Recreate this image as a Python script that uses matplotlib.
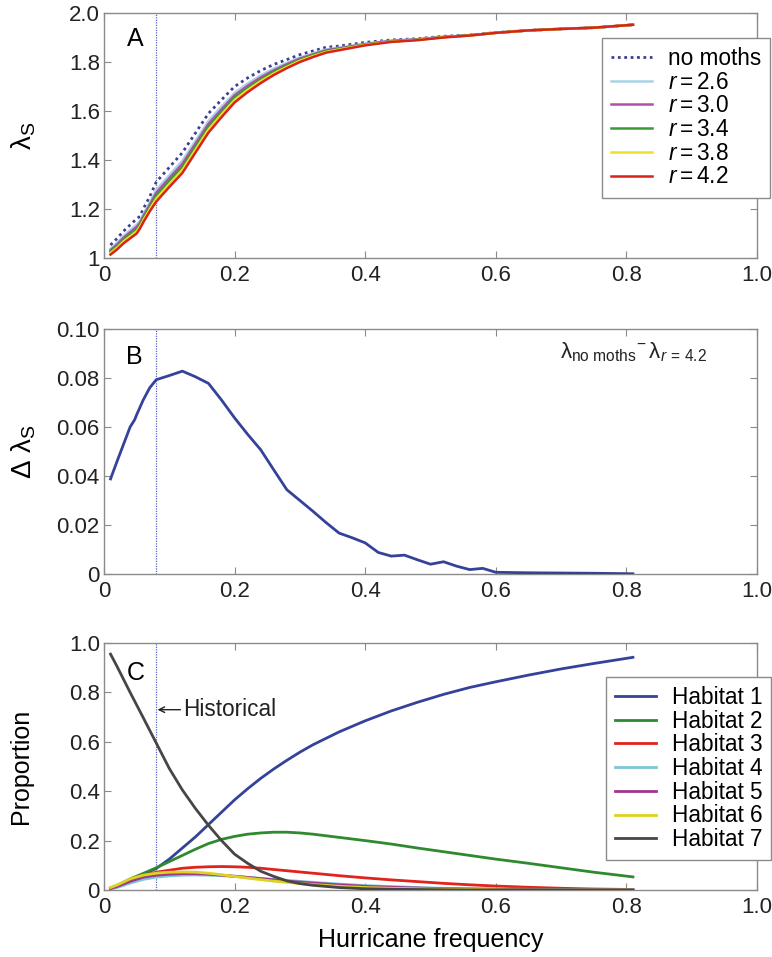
import matplotlib
matplotlib.use("Agg")
import matplotlib.pyplot as plt

plt.rcParams['font.family'] = ['Liberation Sans', 'DejaVu Sans']
plt.rcParams['mathtext.fontset'] = 'custom'
plt.rcParams['mathtext.rm'] = 'Liberation Sans'
plt.rcParams['mathtext.it'] = 'Liberation Sans:italic'
plt.rcParams['mathtext.bf'] = 'Liberation Sans:bold'

# ---------------- Panel A data ----------------
xA = [0.01, 0.02, 0.03, 0.04, 0.05, 0.055, 0.06, 0.07, 0.08, 0.10, 0.12, 0.14, 0.16, 0.18,
      0.20, 0.22, 0.24, 0.26, 0.28, 0.30, 0.32, 0.34, 0.36, 0.40, 0.44, 0.48, 0.52, 0.56,
      0.60, 0.65, 0.70, 0.75, 0.81]
no_moths = [1.053, 1.08, 1.11, 1.135, 1.16, 1.17, 1.20, 1.25, 1.31, 1.37, 1.43, 1.51, 1.59, 1.646,
            1.70, 1.735, 1.765, 1.79, 1.81, 1.83, 1.845, 1.86, 1.865, 1.88, 1.89, 1.895, 1.905, 1.91,
            1.92, 1.929, 1.935, 1.94, 1.952]
r26 = [1.037, 1.062, 1.090, 1.113, 1.136, 1.150, 1.178, 1.226, 1.278, 1.338, 1.397, 1.478, 1.559, 1.618,
       1.674, 1.712, 1.745, 1.773, 1.796, 1.818, 1.835, 1.851, 1.858, 1.875, 1.887, 1.893, 1.903, 1.909,
       1.920, 1.929, 1.935, 1.94, 1.952]
r30 = [1.032, 1.055, 1.083, 1.105, 1.127, 1.143, 1.170, 1.217, 1.266, 1.326, 1.384, 1.466, 1.547, 1.607,
       1.664, 1.703, 1.737, 1.766, 1.791, 1.814, 1.831, 1.848, 1.856, 1.873, 1.886, 1.892, 1.902, 1.909,
       1.919, 1.929, 1.935, 1.94, 1.952]
r34 = [1.026, 1.049, 1.075, 1.097, 1.118, 1.135, 1.162, 1.208, 1.254, 1.314, 1.372, 1.454, 1.535, 1.596,
       1.655, 1.694, 1.729, 1.760, 1.786, 1.809, 1.828, 1.845, 1.853, 1.872, 1.884, 1.891, 1.902, 1.909,
       1.919, 1.929, 1.935, 1.94, 1.952]
r38 = [1.020, 1.042, 1.068, 1.088, 1.109, 1.128, 1.153, 1.199, 1.242, 1.302, 1.359, 1.442, 1.524, 1.586,
       1.645, 1.686, 1.722, 1.753, 1.780, 1.805, 1.824, 1.841, 1.851, 1.870, 1.883, 1.890, 1.901, 1.908,
       1.919, 1.929, 1.935, 1.94, 1.952]
r42 = [1.014, 1.035, 1.060, 1.080, 1.100, 1.120, 1.145, 1.190, 1.230, 1.290, 1.347, 1.430, 1.512, 1.575,
       1.635, 1.677, 1.714, 1.747, 1.775, 1.800, 1.820, 1.838, 1.848, 1.868, 1.882, 1.889, 1.900, 1.908,
       1.919, 1.929, 1.935, 1.94, 1.952]
seriesA_labels = ['no moths', '$r = 2.6$', '$r = 3.0$', '$r = 3.4$', '$r = 3.8$', '$r = 4.2$']
seriesA_colors = ['#3b3f8f', '#a9d3e6', '#b24fa6', '#3a9a35', '#eee02a', '#d8231a']

# ---------------- Panel B data ----------------
xB = [0.01, 0.02, 0.03, 0.04, 0.047, 0.05, 0.06, 0.07, 0.08, 0.10, 0.12, 0.14, 0.16, 0.18, 0.20,
      0.22, 0.24, 0.26, 0.28, 0.30, 0.32, 0.34, 0.36, 0.38, 0.40, 0.42, 0.44, 0.46, 0.48, 0.50,
      0.52, 0.54, 0.56, 0.58, 0.60, 0.65, 0.70, 0.75, 0.81]
delta = [0.0388, 0.046, 0.053, 0.060, 0.063, 0.065, 0.071, 0.076, 0.0793, 0.081, 0.0828, 0.0805,
         0.0778, 0.071, 0.0637, 0.057, 0.0507, 0.0425, 0.0344, 0.030, 0.0256, 0.021, 0.0167,
         0.0148, 0.0127, 0.0088, 0.0073, 0.0077, 0.0058, 0.0040, 0.0050, 0.0032, 0.0018, 0.0023,
         0.0007, 0.0005, 0.0004, 0.0003, 0.0001]

# ---------------- Panel C data ----------------
xC = [0.01, 0.02, 0.04, 0.06, 0.08, 0.10, 0.12, 0.14, 0.16, 0.18, 0.20, 0.22, 0.24, 0.26, 0.28,
      0.30, 0.32, 0.36, 0.40, 0.44, 0.48, 0.52, 0.56, 0.60, 0.65, 0.70, 0.75, 0.81]
hab1 = [0.005, 0.015, 0.040, 0.063, 0.087, 0.125, 0.170, 0.215, 0.265, 0.315, 0.365, 0.410, 0.452,
        0.490, 0.525, 0.558, 0.588, 0.640, 0.685, 0.725, 0.760, 0.792, 0.820, 0.843, 0.870, 0.895,
        0.917, 0.942]
hab2 = [0.008, 0.018, 0.045, 0.067, 0.090, 0.115, 0.140, 0.165, 0.188, 0.205, 0.217, 0.226, 0.231,
        0.234, 0.234, 0.231, 0.226, 0.213, 0.200, 0.186, 0.170, 0.155, 0.140, 0.125, 0.108, 0.090,
        0.072, 0.053]
hab3 = [0.007, 0.015, 0.038, 0.058, 0.072, 0.080, 0.088, 0.092, 0.094, 0.095, 0.094, 0.092, 0.088,
        0.083, 0.078, 0.073, 0.068, 0.058, 0.049, 0.041, 0.034, 0.027, 0.021, 0.016, 0.011, 0.007,
        0.004, 0.002]
hab4 = [0.003, 0.010, 0.028, 0.043, 0.052, 0.057, 0.060, 0.061, 0.060, 0.058, 0.055, 0.051, 0.047,
        0.043, 0.039, 0.035, 0.031, 0.024, 0.018, 0.014, 0.010, 0.007, 0.005, 0.004, 0.003, 0.002,
        0.001, 0.001]
hab5 = [0.006, 0.014, 0.035, 0.052, 0.060, 0.064, 0.066, 0.066, 0.064, 0.060, 0.056, 0.051, 0.046,
        0.041, 0.036, 0.032, 0.028, 0.021, 0.015, 0.011, 0.008, 0.005, 0.004, 0.003, 0.002, 0.001,
        0.001, 0.0]
hab6 = [0.010, 0.020, 0.045, 0.060, 0.068, 0.072, 0.073, 0.072, 0.068, 0.062, 0.055, 0.048, 0.042,
        0.036, 0.031, 0.026, 0.022, 0.015, 0.010, 0.007, 0.005, 0.003, 0.002, 0.001, 0.0, 0.0,
        0.0, 0.0]
hab7 = [0.955, 0.905, 0.800, 0.698, 0.595, 0.492, 0.405, 0.330, 0.262, 0.200, 0.145, 0.108, 0.076,
        0.055, 0.037, 0.026, 0.019, 0.010, 0.005, 0.003, 0.002, 0.001, 0.0, 0.0, 0.0, 0.0, 0.0, 0.0]
habitats = [hab1, hab2, hab3, hab4, hab5, hab6, hab7]
hab_labels = ['Habitat 1', 'Habitat 2', 'Habitat 3', 'Habitat 4', 'Habitat 5', 'Habitat 6', 'Habitat 7']
hab_colors = ['#34429a', '#2f8a2f', '#e0231c', '#7cc6d6', '#a0378f', '#ddd21e', '#4a4545']

historical = 0.08

xticks = [0, 0.2, 0.4, 0.6, 0.8, 1.0]
xticklabels = ['0', '0.2', '0.4', '0.6', '0.8', '1.0']

TICK_FS = 16
LEG_FS = 16.3
LAB_FS = 18
W, H = 772, 957
fig = plt.figure(figsize=(W / 100, H / 100), dpi=100)

def px_axes(left, top, right, bottom):
    return fig.add_axes([left / W, 1 - bottom / H, (right - left) / W, (bottom - top) / H])

def style(ax):
    for s in ax.spines.values():
        s.set_color('#8a8a8a')
        s.set_linewidth(1.0)
    ax.tick_params(direction='in', top=True, right=True, length=5, width=0.8,
                   color='#8a8a8a', labelsize=TICK_FS, labelcolor='#222222')
    ax.tick_params(axis='x', pad=5)
    ax.tick_params(axis='y', pad=3)
    ax.set_xlim(0, 1.0)
    ax.set_xticks(xticks)
    ax.set_xticklabels(xticklabels)
    ax.axvline(historical, color='#5566c8', lw=0.9, ls=(0, (1, 1)), zorder=1)

axA = px_axes(104, 13, 757, 258)
axB = px_axes(104, 329, 757, 574)
axC = px_axes(104, 643, 757, 890)

leg_kw = dict(fontsize=LEG_FS, frameon=True, fancybox=False, framealpha=1,
              edgecolor='#8a8a8a', handlelength=1.8, labelspacing=0.03,
              borderpad=0.4, handletextpad=0.7, borderaxespad=0, loc='upper left')

# Panel A
seriesA = [no_moths, r26, r30, r34, r38, r42]
for i, (vals, lab, col) in enumerate(zip(seriesA, seriesA_labels, seriesA_colors)):
    if i == 0:
        axA.plot(xA, vals, color=col, lw=2.0, ls=(0, (1, 1.3)), label=lab, zorder=3)
    else:
        axA.plot(xA, vals, color=col, lw=1.8, label=lab, zorder=3 + i)
style(axA)
axA.set_ylim(1, 2.0)
axA.set_yticks([1, 1.2, 1.4, 1.6, 1.8, 2.0])
axA.set_yticklabels(['1', '1.2', '1.4', '1.6', '1.8', '2.0'])
axA.set_ylabel(r'$\mathrm{\lambda}_{\mathrm{S}}$', fontsize=20)
axA.yaxis.set_label_coords(-0.101, 0.5)
axA.text(0.035, 1.894, 'A', fontsize=18, va='center', ha='left')
legA = axA.legend(bbox_to_anchor=(602 / W, 1 - 38 / H), bbox_transform=fig.transFigure, **leg_kw)
legA.get_frame().set_linewidth(1.0)

# Panel B
axB.plot(xB, delta, color='#34429a', lw=2.0, zorder=3)
style(axB)
axB.set_ylim(0, 0.10)
axB.set_yticks([0, 0.02, 0.04, 0.06, 0.08, 0.10])
axB.set_yticklabels(['0', '0.02', '0.04', '0.06', '0.08', '0.10'])
axB.set_ylabel(r'$\Delta\ \mathrm{\lambda}_{\mathrm{S}}$', fontsize=20)
axB.yaxis.set_label_coords(-0.101, 0.5)
axB.text(0.033, 0.0885, 'B', fontsize=18, va='center', ha='left')
axB.text(0.698, 0.0905, r'$\mathrm{\lambda}_{\mathrm{no\ moths}}{}^{-}\,\mathrm{\lambda}_{r\,=\,4.2}$',
         fontsize=16, va='center', ha='left', color='#222222')

# Panel C
for vals, lab, col in zip(habitats, hab_labels, hab_colors):
    axC.plot(xC, vals, color=col, lw=2.0, label=lab, zorder=3)
style(axC)
axC.set_ylim(0, 1.0)
axC.set_yticks([0, 0.2, 0.4, 0.6, 0.8, 1.0])
axC.set_yticklabels(['0', '0.2', '0.4', '0.6', '0.8', '1.0'])
axC.set_ylabel('Proportion', fontsize=LAB_FS)
axC.yaxis.set_label_coords(-0.109, 0.5)
axC.set_xlabel('Hurricane frequency', fontsize=LAB_FS, labelpad=7)
axC.text(0.035, 0.88, 'C', fontsize=18, va='center', ha='left')
axC.annotate('', xy=(0.082, 0.73), xytext=(0.117, 0.73),
             arrowprops=dict(arrowstyle='->', lw=1.0, color='#222222',
                             shrinkA=0, shrinkB=0, mutation_scale=10))
axC.text(0.121, 0.73, 'Historical', fontsize=LEG_FS, va='center', ha='left', color='#222222')
legC = axC.legend(bbox_to_anchor=(606 / W, 1 - 677 / H), bbox_transform=fig.transFigure, **leg_kw)
legC.get_frame().set_linewidth(1.0)

fig.savefig('out.png', dpi=100)
